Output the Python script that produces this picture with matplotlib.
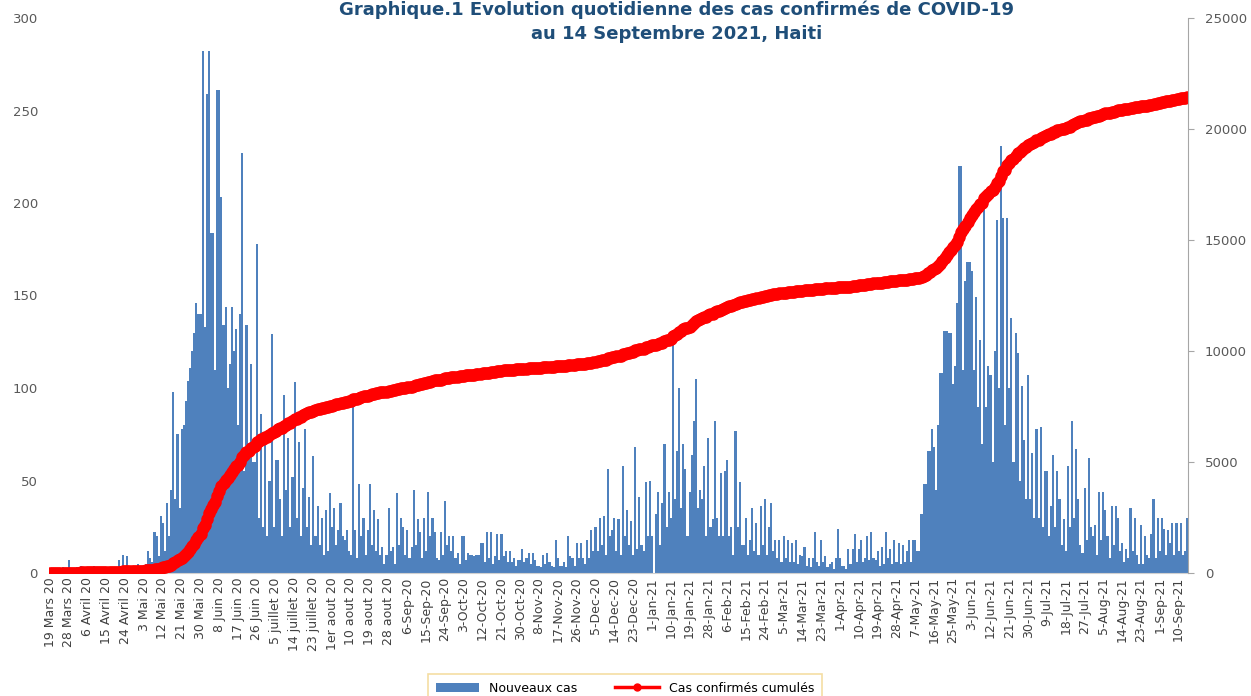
import numpy as np
import matplotlib.pyplot as plt
from matplotlib.lines import Line2D
from matplotlib.patches import Patch

# Nouveaux cas par jour, 19 mars 2020 -> 14 septembre 2021 (une ligne = 9 jours)
nouveaux_cas = [
    2, 0, 0, 1, 2, 0, 3, 0, 0,            # 19 Mars 20
    7, 0, 0, 2, 3, 0, 4, 0, 3,            # 28 Mars 20
    0, 2, 3, 4, 3, 0, 1, 0, 3,            # 6 Avril 20
    0, 3, 2, 0, 1, 3, 7, 4, 10,           # 15 Avril 20
    4, 9, 2, 1, 3, 2, 5, 3, 4,            # 24 Avril 20
    3, 5, 12, 8, 6, 22, 20, 9, 31,        # 3 Mai 20
    27, 12, 38, 20, 45, 98, 40, 75, 35,   # 12 Mai 20
    78, 80, 93, 104, 111, 120, 130, 146, 140,   # 21 Mai 20
    140, 282, 133, 259, 282, 184, 184, 110, 261,  # 30 Mai 20
    261, 203, 134, 144, 100, 113, 144, 120, 132,  # 8 Juin 20
    80, 140, 227, 55, 134, 70, 113, 60, 60,     # 17 Juin 20
    178, 30, 86, 25, 70, 20, 50, 129, 25,       # 26 Juin 20
    61, 61, 40, 20, 96, 45, 73, 25, 52,         # 5 juillet 20
    103, 30, 71, 20, 46, 78, 25, 41, 15,        # 14 juillet 20
    63, 20, 36, 15, 30, 10, 34, 12, 43,         # 23 juillet 20
    25, 35, 15, 23, 38, 20, 18, 23, 12,         # 1er aout 20
    10, 90, 23, 8, 48, 20, 30, 10, 23,          # 10 aout 20
    48, 15, 34, 12, 29, 10, 14, 5, 10,          # 19 aout 20
    35, 12, 14, 5, 43, 15, 30, 25, 10,          # 28 aout 20
    23, 8, 14, 45, 15, 29, 22, 8, 30,           # 6-Sep-20
    12, 44, 20, 30, 22, 8, 7, 22, 10,           # 15-Sep-20
    39, 15, 20, 12, 20, 8, 11, 5, 20,           # 24-Sep-20
    20, 7, 11, 10, 10, 9, 10, 10, 16,           # 3-Oct-20
    16, 6, 22, 8, 22, 5, 9, 21, 7,              # 12-Oct-20
    21, 9, 12, 6, 12, 6, 8, 4, 7,               # 21-Oct-20
    7, 13, 6, 8, 11, 5, 11, 7, 4,               # 30-Oct-20
    4, 3, 10, 5, 11, 6, 4, 3, 18,               # 8-Nov-20
    8, 4, 4, 6, 3, 20, 9, 8, 4,                 # 17-Nov-20
    16, 8, 16, 8, 5, 18, 8, 23, 12,             # 26-Nov-20
    25, 12, 30, 15, 31, 10, 56, 20, 23,         # 5-Dec-20
    30, 12, 29, 10, 58, 20, 34, 15, 28,         # 14-Dec-20
    10, 68, 13, 41, 15, 12, 49, 20, 50,         # 23-Dec-20
    20, 0, 32, 44, 15, 38, 70, 25, 44,          # 1-Jan-21
    30, 123, 40, 66, 100, 35, 70, 56, 20,       # 10-Jan-21
    44, 64, 82, 105, 35, 45, 40, 58, 20,        # 19-Jan-21
    73, 25, 29, 82, 30, 20, 54, 20, 55,         # 28-Jan-21
    61, 20, 25, 10, 77, 25, 49, 15, 15,         # 6-Feb-21
    30, 10, 18, 35, 12, 27, 10, 36, 15,         # 15-Feb-21
    40, 10, 25, 38, 12, 18, 8, 18, 6,           # 24-Feb-21
    20, 8, 18, 6, 16, 6, 18, 5, 10,             # 5-Mar-21
    9, 14, 4, 8, 3, 8, 22, 6, 4,                # 14-Mar-21
    18, 6, 9, 3, 5, 6, 2, 8, 24,                # 23-Mar-21
    8, 4, 4, 2, 13, 5, 13, 21, 6,               # 1-Apr-21
    13, 18, 6, 8, 20, 7, 22, 8, 7,              # 10-Apr-21
    12, 4, 14, 5, 22, 8, 13, 5, 18,             # 19-Apr-21
    6, 16, 5, 15, 6, 12, 18, 6, 18,             # 28-Apr-21
    18, 12, 12, 32, 48, 48, 66, 66, 78,         # 7-May-21
    68, 45, 80, 108, 108, 131, 131, 130, 130,   # 16-May-21
    102, 112, 146, 220, 220, 110, 158, 168, 168,  # 25-May-21
    163, 110, 149, 90, 126, 70, 204, 90, 112,   # 3-Jun-21
    107, 60, 120, 191, 100, 231, 192, 80, 192,  # 12-Jun-21
    100, 138, 60, 130, 119, 50, 101, 72, 40,    # 21-Jun-21
    107, 40, 65, 30, 78, 30, 79, 25, 55,        # 30-Jun-21
    55, 20, 36, 64, 25, 55, 40, 15, 29,         # 9-Jul-21
    12, 58, 25, 82, 30, 67, 40, 15, 11,         # 18-Jul-21
    46, 18, 62, 25, 20, 26, 10, 44, 18,         # 27-Jul-21
    44, 34, 20, 8, 36, 15, 36, 30, 12,          # 5-Aug-21
    16, 6, 13, 8, 35, 12, 30, 10, 5,            # 14-Aug-21
    26, 5, 20, 10, 8, 21, 40, 8, 30,            # 23-Aug-21
    12, 30, 24, 10, 23, 16, 27, 10, 27,         # 1-Sep-21
    12, 27, 10, 12, 30,                         # 10-Sep-21
]

tick_labels = [
    '19 Mars 20', '28 Mars 20', '6 Avril 20', '15 Avril 20', '24 Avril 20',
    '3 Mai 20', '12 Mai 20', '21 Mai 20', '30 Mai 20', '8 Juin 20',
    '17 Juin 20', '26 Juin 20', '5 juillet 20', '14 juillet 20', '23 juillet 20',
    '1er aout 20', '10 aout 20', '19 aout 20', '28 aout 20', '6-Sep-20',
    '15-Sep-20', '24-Sep-20', '3-Oct-20', '12-Oct-20', '21-Oct-20',
    '30-Oct-20', '8-Nov-20', '17-Nov-20', '26-Nov-20', '5-Dec-20',
    '14-Dec-20', '23-Dec-20', '1-Jan-21', '10-Jan-21', '19-Jan-21',
    '28-Jan-21', '6-Feb-21', '15-Feb-21', '24-Feb-21', '5-Mar-21',
    '14-Mar-21', '23-Mar-21', '1-Apr-21', '10-Apr-21', '19-Apr-21',
    '28-Apr-21', '7-May-21', '16-May-21', '25-May-21', '3-Jun-21',
    '12-Jun-21', '21-Jun-21', '30-Jun-21', '9-Jul-21', '18-Jul-21',
    '27-Jul-21', '5-Aug-21', '14-Aug-21', '23-Aug-21', '1-Sep-21',
    '10-Sep-21',
]

cas = np.array(nouveaux_cas)
cumules = np.cumsum(cas)
jours = np.arange(len(cas))

blue = '#4F81BD'
grey = '#595959'

fig = plt.figure(figsize=(12.51, 6.96), dpi=100)
ax = fig.add_axes([49 / 1251, 1 - 573 / 696, (1188 - 49) / 1251, (573 - 18) / 696])
ax2 = ax.twinx()

ax.bar(jours, cas, width=1.0, color=blue, linewidth=0)
ax2.plot(jours, cumules, color='#FF0000', lw=4.5, marker='o', ms=8,
         mec='#FF0000', mfc='#FF0000', solid_capstyle='round')

ax.set_xlim(-0.5, len(cas) - 0.5)
ax.set_ylim(0, 300)
ax2.set_ylim(0, 25000)
ax.set_yticks(range(0, 301, 50))
ax2.set_yticks(range(0, 25001, 5000))
ax.set_xticks(range(0, len(cas), 9))
ax.set_xticklabels(tick_labels, rotation=90, fontsize=9, color='#404040')

for a in (ax, ax2):
    for s in ('top', 'left'):
        a.spines[s].set_visible(False)
ax.spines['right'].set_visible(False)
ax.spines['bottom'].set_color('#D0D0D0')
ax2.spines['bottom'].set_visible(False)
ax2.spines['right'].set_color('#A6A6A6')

ax.tick_params(axis='y', length=0, labelsize=9.5, labelcolor=grey, pad=8)
ax.tick_params(axis='x', length=0, pad=3)
ax2.tick_params(axis='y', length=4, color='#A6A6A6', labelsize=9.5,
                labelcolor=grey, pad=8)

title_color = '#1F4E79'
fig.text(0.541, 1 - 10 / 696, 'Graphique.1 Evolution quotidienne des cas confirmés de COVID-19',
         ha='center', va='center', fontsize=13, fontweight='bold', color=title_color)
fig.text(0.541, 1 - 34 / 696, 'au 14 Septembre 2021, Haiti',
         ha='center', va='center', fontsize=13, fontweight='bold', color=title_color)

handles = [Patch(facecolor=blue, edgecolor='none'),
           Line2D([], [], color='#FF0000', lw=2.5, marker='o', ms=5)]
leg = fig.legend(handles, ['Nouveaux cas', 'Cas confirmés cumulés'],
                 loc='upper center', bbox_to_anchor=(0.4995, 1 - 668 / 696),
                 ncol=2, fontsize=9, frameon=True, fancybox=False,
                 handlelength=3.5, columnspacing=3, borderpad=0.6)
leg.get_frame().set_edgecolor('#F2D58C')
leg.get_frame().set_linewidth(1.2)

fig.savefig('out.png', dpi=100)
